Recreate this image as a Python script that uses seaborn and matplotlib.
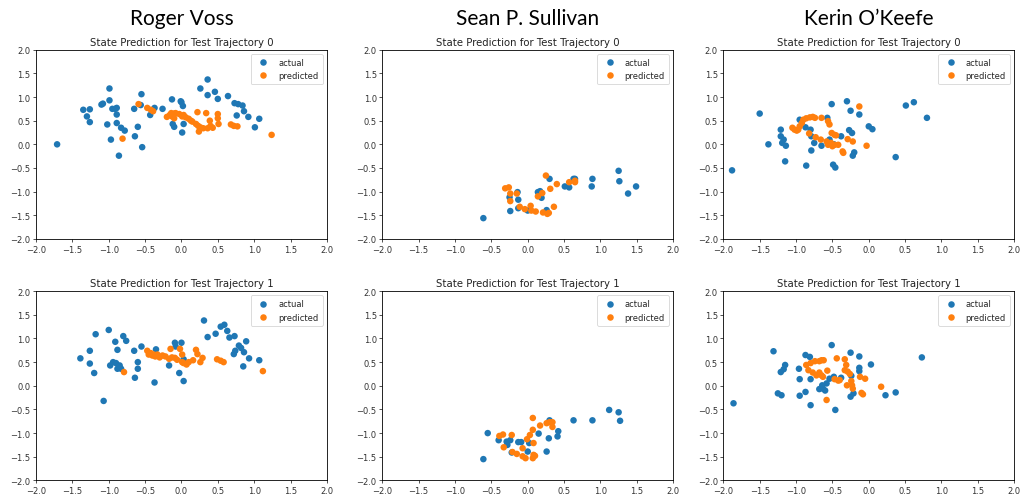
import matplotlib
matplotlib.use("Agg")
import matplotlib.pyplot as plt
import seaborn as sns
import pandas as pd

# ---- reviewer names (column headers) and panel titles ----
reviewers = ["Roger Voss", "Sean P. Sullivan", "Kerin O\u2019Keefe"]
trajectory_titles = ["State Prediction for Test Trajectory 0",
                     "State Prediction for Test Trajectory 1"]
series_names = ["actual", "predicted"]
axis_ticks = [-2.0, -1.5, -1.0, -0.5, 0.0, 0.5, 1.0, 1.5, 2.0]

# ---- Roger Voss, trajectory 0 ----
voss_t0_actual = [
    (-1.71, 0.00), (-1.35, 0.73), (-1.30, 0.59), (-1.26, 0.74), (-1.26, 0.47),
    (-1.10, 0.84), (-1.08, 0.86), (-0.99, 1.18), (-0.99, 0.93), (-1.02, 0.42),
    (-0.97, 0.10), (-0.95, 0.75), (-0.91, 0.75), (-0.89, 0.77), (-0.89, 0.63),
    (-0.89, 0.45), (-0.86, -0.24), (-0.83, 0.35), (-0.78, 0.29), (-0.65, 0.75),
    (-0.64, 0.17), (-0.60, 0.37), (-0.55, 1.06), (-0.54, -0.06), (-0.56, 0.83),
    (-0.43, 0.62), (-0.37, 0.77), (-0.26, 0.75), (-0.13, 0.95), (-0.12, 0.43),
    (-0.10, 0.37), (-0.01, 0.91), (0.00, 0.89), (0.02, 0.81), (0.01, 0.25),
    (0.03, 0.43), (0.26, 1.18), (0.36, 1.37), (0.36, 1.04), (0.46, 1.11),
    (0.50, 0.96), (0.64, 1.02), (0.73, 0.87), (0.78, 0.85), (0.84, 0.82),
    (0.86, 0.70), (0.76, 0.61), (0.92, 0.58), (1.01, 0.36), (1.07, 0.54),
]
voss_t0_predicted = [
    (-0.81, 0.12), (-0.59, 0.85), (-0.47, 0.77), (-0.42, 0.73), (-0.39, 0.70),
    (-0.20, 0.58), (-0.16, 0.62), (-0.14, 0.66), (-0.13, 0.59), (-0.10, 0.65),
    (-0.08, 0.66), (-0.10, 0.55), (-0.03, 0.64), (0.01, 0.59), (0.03, 0.62),
    (0.06, 0.57), (0.10, 0.54), (0.13, 0.50), (0.15, 0.48), (0.20, 0.43),
    (0.22, 0.68), (0.23, 0.39), (0.26, 0.36), (0.24, 0.27), (0.30, 0.34),
    (0.34, 0.66), (0.36, 0.34), (0.39, 0.50), (0.40, 0.39), (0.43, 0.35),
    (0.50, 0.64), (0.50, 0.55), (0.51, 0.43), (0.68, 0.42), (0.72, 0.39),
    (0.77, 0.38), (1.24, 0.20),
]

# ---- Roger Voss, trajectory 1 ----
voss_t1_actual = [
    (-1.39, 0.58), (-1.26, 0.74), (-1.26, 0.47), (-1.20, 0.27), (-1.18, 1.09),
    (-1.07, -0.32), (-1.00, 1.18), (-0.98, 0.43), (-0.94, 0.50), (-0.91, 0.93),
    (-0.90, 0.48), (-0.88, 0.76), (-0.88, 0.36), (-0.85, 0.43), (-0.83, 0.36),
    (-0.80, 1.05), (-0.76, 0.95), (-0.65, 0.74), (-0.64, 0.17), (-0.60, 0.50),
    (-0.60, 0.36), (-0.55, 0.83), (-0.37, 0.07), (-0.35, 0.77), (-0.17, 0.43),
    (-0.09, 0.91), (-0.08, 0.83), (-0.03, 0.27), (0.00, 0.91), (0.03, 0.10),
    (0.03, 0.56), (0.31, 1.38), (0.36, 1.03), (0.47, 1.10), (0.54, 1.25),
    (0.59, 1.29), (0.63, 1.16), (0.66, 1.02), (0.73, 1.05), (0.72, 0.67),
    (0.74, 0.74), (0.79, 0.85), (0.82, 0.80), (0.85, 0.41), (0.86, 0.71),
    (0.89, 0.94), (0.93, 0.58), (1.07, 0.54),
]
voss_t1_predicted = [
    (-0.79, 0.29), (-0.47, 0.74), (-0.45, 0.66), (-0.42, 0.69), (-0.40, 0.64),
    (-0.38, 0.66), (-0.36, 0.62), (-0.33, 0.66), (-0.30, 0.60), (-0.26, 0.64),
    (-0.22, 0.62), (-0.15, 0.78), (-0.17, 0.57), (-0.13, 0.60), (-0.09, 0.59),
    (-0.06, 0.55), (-0.02, 0.78), (0.01, 0.66), (0.01, 0.50), (0.03, 0.48),
    (0.07, 0.45), (0.10, 0.50), (0.16, 0.54), (0.20, 0.76), (0.22, 0.67),
    (0.26, 0.50), (0.29, 0.59), (0.49, 0.56), (0.54, 0.53), (0.58, 0.50),
    (1.12, 0.31),
]

# ---- Sean P. Sullivan, trajectory 0 ----
sullivan_t0_actual = [
    (-0.61, -1.56), (-0.25, -1.12), (-0.24, -1.41), (-0.14, -1.01), (-0.13, -1.17),
    (-0.13, -1.35), (0.00, -1.40), (0.14, -1.01), (0.17, -0.99), (0.19, -1.13),
    (0.26, -1.39), (0.30, -0.73), (0.51, -0.89), (0.57, -0.91), (0.63, -0.73),
    (0.65, -0.73), (0.88, -0.89), (0.89, -0.73), (1.25, -0.56), (1.26, -0.78),
    (1.38, -1.04), (1.49, -0.89),
]
sullivan_t0_predicted = [
    (-0.31, -0.93), (-0.26, -0.91), (-0.24, -1.04), (-0.24, -1.20), (-0.15, -1.04),
    (-0.11, -1.32), (-0.04, -1.37), (0.04, -1.30), (0.05, -1.40), (0.11, -1.42),
    (0.14, -1.10), (0.20, -1.03), (0.21, -1.44), (0.25, -0.66), (0.27, -1.47),
    (0.29, -1.45), (0.31, -0.94), (0.36, -1.32), (0.40, -0.84), (0.57, -0.80),
    (0.65, -0.77), (0.65, -0.80),
]

# ---- Sean P. Sullivan, trajectory 1 ----
sullivan_t1_actual = [
    (-0.61, -1.55), (-0.55, -1.00), (-0.40, -1.15), (-0.29, -1.18), (-0.28, -1.25),
    (-0.24, -1.15), (-0.22, -1.41), (-0.13, -1.19), (-0.09, -1.19), (0.00, -1.39),
    (0.02, -1.21), (0.15, -1.01), (0.26, -1.39), (0.29, -1.11), (0.30, -0.73),
    (0.41, -1.07), (0.42, -0.96), (0.63, -0.73), (0.89, -0.73), (1.12, -0.51),
    (1.25, -0.56), (1.27, -0.74),
]
sullivan_t1_predicted = [
    (-0.39, -1.06), (-0.34, -1.03), (-0.33, -1.30), (-0.22, -1.04), (-0.21, -1.40),
    (-0.15, -1.44), (-0.07, -1.32), (-0.07, -1.49), (-0.03, -1.53), (-0.01, -1.13),
    (0.03, -1.04), (0.07, -0.93), (0.07, -0.68), (0.08, -1.21), (0.08, -1.46),
    (0.07, -1.53), (0.10, -1.48), (0.17, -0.84), (0.26, -0.79), (0.30, -0.77),
    (0.34, -0.77), (0.34, -0.87),
]

# ---- Kerin O'Keefe, trajectory 0 ----
okeefe_t0_actual = [
    (-1.88, -0.55), (-1.50, 0.65), (-1.38, 0.00), (-1.21, 0.31), (-1.21, 0.17),
    (-1.19, 0.03), (-1.17, 0.10), (-1.14, -0.03), (-1.15, -0.36), (-0.95, 0.52),
    (-0.87, 0.36), (-0.80, 0.31), (-0.79, 0.17), (-0.79, -0.13), (-0.75, 0.03),
    (-0.86, -0.45), (-0.65, -0.03), (-0.57, 0.56), (-0.54, 0.10), (-0.51, 0.85),
    (-0.49, -0.43), (-0.46, -0.49), (-0.38, 0.17), (-0.30, 0.91), (-0.27, 0.30),
    (-0.25, 0.71), (-0.23, 0.24), (-0.22, -0.24), (-0.20, -0.17), (-0.13, 0.63),
    (0.00, 0.38), (0.05, 0.32), (0.37, -0.27), (0.51, 0.82), (0.62, 0.89),
    (0.80, 0.56), (-0.48, 0.00),
]
okeefe_t0_predicted = [
    (-1.05, 0.35), (-1.02, 0.31), (-0.99, 0.29), (-0.97, 0.31), (-0.95, 0.38),
    (-0.92, 0.45), (-0.90, 0.52), (-0.86, 0.55), (-0.81, 0.57), (-0.77, 0.58),
    (-0.74, 0.56), (-0.82, 0.23), (-0.73, 0.15), (-0.66, 0.10), (-0.65, 0.56),
    (-0.58, 0.06), (-0.56, -0.01), (-0.56, 0.49), (-0.54, 0.42), (-0.52, 0.03),
    (-0.51, 0.24), (-0.50, -0.04), (-0.47, -0.01), (-0.47, 0.20), (-0.45, 0.19),
    (-0.42, -0.01), (-0.36, -0.15), (-0.35, -0.18), (-0.29, 0.11), (-0.22, 0.06),
    (-0.13, 0.80), (-0.03, -0.03),
]

# ---- Kerin O'Keefe, trajectory 1 ----
okeefe_t1_actual = [
    (-1.86, -0.37), (-1.31, 0.73), (-1.25, -0.16), (-1.20, -0.20), (-1.21, 0.29),
    (-1.17, 0.35), (-1.15, 0.44), (-0.96, 0.36), (-0.95, 0.14), (-0.95, -0.21),
    (-0.87, -0.13), (-0.87, 0.65), (-0.81, 0.61), (-0.80, 0.14), (-0.80, -0.41),
    (-0.68, -0.07), (-0.64, 0.01), (-0.63, -0.06), (-0.60, -0.10), (-0.58, 0.05),
    (-0.54, 0.15), (-0.51, 0.86), (-0.48, 0.19), (-0.46, -0.51), (-0.38, 0.17),
    (-0.25, 0.70), (-0.25, -0.23), (-0.24, 0.21), (-0.21, -0.16), (-0.13, 0.62),
    (-0.13, 0.38), (-0.13, 0.31), (0.03, 0.45), (0.23, -0.20), (0.37, -0.14),
    (0.73, 0.60),
]
okeefe_t1_predicted = [
    (-0.86, 0.44), (-0.83, 0.33), (-0.80, 0.48), (-0.77, 0.28), (-0.74, 0.52),
    (-0.72, 0.22), (-0.68, 0.52), (-0.68, 0.28), (-0.65, 0.54), (-0.63, 0.19),
    (-0.62, 0.54), (-0.65, 0.22), (-0.58, -0.30), (-0.57, 0.32), (-0.44, 0.58),
    (-0.47, 0.14), (-0.42, 0.11), (-0.40, 0.12), (-0.33, 0.56), (-0.31, 0.44),
    (-0.33, 0.33), (-0.29, 0.30), (-0.26, 0.25), (-0.30, 0.01), (-0.24, 0.10),
    (-0.23, 0.01), (-0.22, -0.06), (-0.12, 0.19), (-0.10, -0.15), (-0.08, -0.18),
    (-0.05, 0.15), (0.17, -0.02),
]

panels = [
    [(voss_t0_actual, voss_t0_predicted),
     (sullivan_t0_actual, sullivan_t0_predicted),
     (okeefe_t0_actual, okeefe_t0_predicted)],
    [(voss_t1_actual, voss_t1_predicted),
     (sullivan_t1_actual, sullivan_t1_predicted),
     (okeefe_t1_actual, okeefe_t1_predicted)],
]


def to_frame(actual, predicted):
    rows = [(x, y, series_names[0]) for x, y in actual]
    rows += [(x, y, series_names[1]) for x, y in predicted]
    return pd.DataFrame(rows, columns=["x", "y", "series"])


sns.set_style("white")
plt.rcParams.update({
    "font.family": ["DejaVu Sans"],
    "axes.edgecolor": "black",
    "axes.linewidth": 0.6,
    "xtick.bottom": True,
    "ytick.left": True,
    "xtick.major.size": 2.5,
    "ytick.major.size": 2.5,
    "xtick.major.width": 0.6,
    "ytick.major.width": 0.6,
    "xtick.color": "#333333",
    "ytick.color": "#333333",
})

palette = {"actual": "#1f77b4", "predicted": "#ff7f0e"}

fig = plt.figure(figsize=(10.26, 5.02), dpi=100)
lefts = [0.0351, 0.3726, 0.7050]
bottoms = [0.522, 0.041]
width, height = 0.2835, 0.377

for r, row in enumerate(panels):
    for c, (actual, predicted) in enumerate(row):
        ax = fig.add_axes([lefts[c], bottoms[r], width, height])
        df = to_frame(actual, predicted)
        sns.scatterplot(data=df, x="x", y="y", hue="series", palette=palette,
                        hue_order=series_names, s=22, linewidth=0, alpha=1.0,
                        ax=ax)
        ax.set_xlim(-2, 2)
        ax.set_ylim(-2, 2)
        ax.set_xticks(axis_ticks)
        ax.set_yticks(axis_ticks)
        ax.tick_params(labelsize=6, pad=1.5)
        ax.set_xlabel("")
        ax.set_ylabel("")
        ax.set_title(trajectory_titles[r], fontsize=7.3, pad=3.5, color="#222222")
        leg = ax.legend(loc="upper right", fontsize=6, title=None,
                        handletextpad=0.8, borderpad=0.5, labelspacing=0.5,
                        frameon=True, fancybox=True)
        leg.get_frame().set_edgecolor("#cccccc")
        leg.get_frame().set_linewidth(0.6)

for c, name in enumerate(reviewers):
    fig.text(lefts[c] + width / 2, 0.962, name, ha="center", va="center",
             fontsize=15, family=["Lato", "DejaVu Sans"], color="black")

fig.savefig("out.png", dpi=100)
